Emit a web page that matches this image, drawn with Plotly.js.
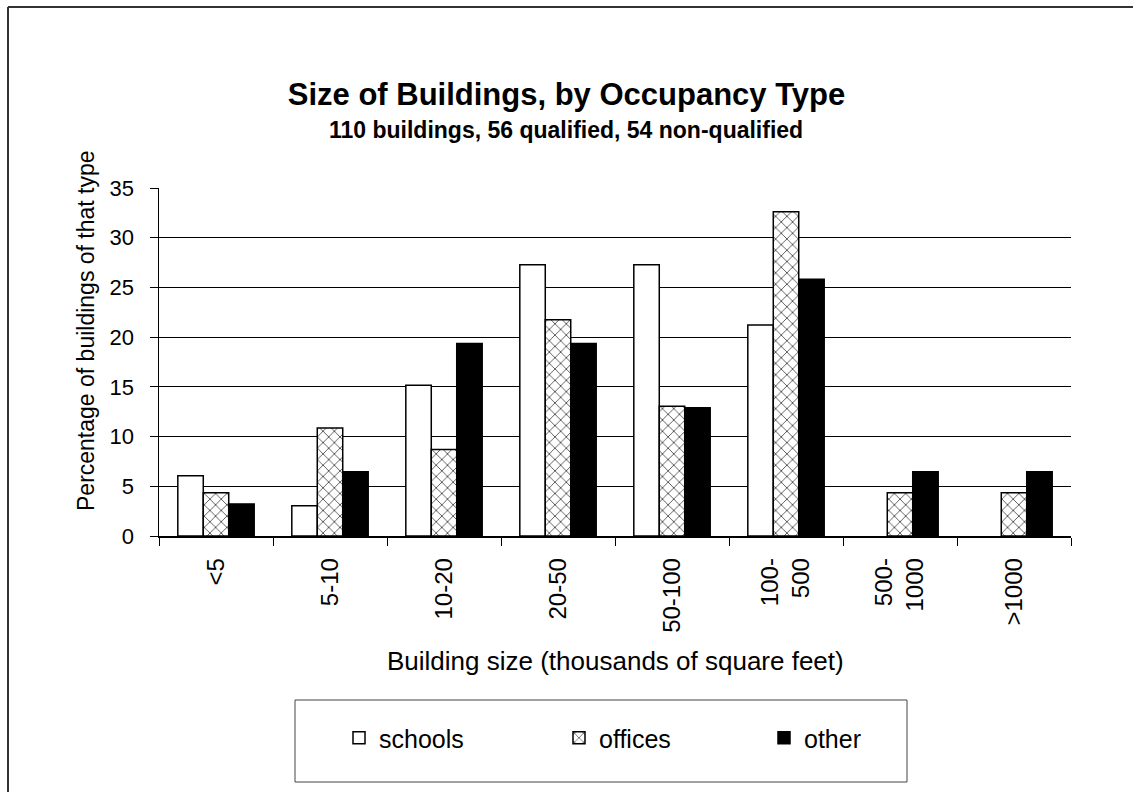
<!DOCTYPE html>
<html>
<head>
<meta charset="utf-8">
<script src="https://cdn.plot.ly/plotly-3.0.1.min.js"></script>
<style>
  html, body { margin: 0; padding: 0; background: #fff; }
  #chart { width: 1133px; height: 792px; }
</style>
</head>
<body>
<div id="chart"></div>
<script>
// ---- data ----
const categories = ["<5", "5-10", "10-20", "20-50", "50-100", "100-<br>500", "500-<br>1000", ">1000"];
const schools = [6.06, 3.03, 15.15, 27.27, 27.27, 21.21, 0, 0];
const offices = [4.35, 10.87, 8.70, 21.74, 13.04, 32.61, 4.35, 4.35];
const other   = [3.23, 6.45, 19.35, 19.35, 12.90, 25.81, 6.45, 6.45];
const seriesNames = ["schools", "offices", "other"];
const yTicks = [0, 5, 10, 15, 20, 25, 30, 35];

// ---- layout geometry (pixels) ----
const W = 1133, H = 792;
const L = 159, R = 1071, T = 188, B = 536;
const pw = R - L, ph = B - T;
const px = X => (X - L) / pw;
const py = Y => (B - Y) / ph;

const FONT = "Liberation Sans, Arial, sans-serif";
// outline hidden on zero-height bars (no visible bar in the original)
const outline = vals => ({ color: "#000", width: vals.map(v => (v > 0 ? 1.5 : 0)) });

const traces = [
  {
    type: "bar", name: seriesNames[0], x: categories, y: schools,
    marker: { color: "#ffffff", line: outline(schools) },
    legend: "legend"
  },
  {
    type: "bar", name: seriesNames[1], x: categories, y: offices,
    marker: {
      color: "#ffffff", line: outline(offices),
      pattern: { shape: "x", fgcolor: "#444", bgcolor: "#ffffff", size: 8, solidity: 0.2 }
    },
    legend: "legend2"
  },
  {
    type: "bar", name: seriesNames[2], x: categories, y: other,
    marker: { color: "#000000", line: outline(other) },
    legend: "legend3"
  }
];

const legendBase = {
  orientation: "h", yanchor: "middle", xanchor: "left",
  font: { family: FONT, size: 25, color: "#000" },
  bgcolor: "rgba(0,0,0,0)", borderwidth: 0
};

const layout = {
  width: W, height: H,
  paper_bgcolor: "#fff", plot_bgcolor: "#fff",
  margin: { l: L, r: W - R, t: T, b: H - B, pad: 0 },
  font: { family: FONT, color: "#000" },
  barmode: "group", bargap: 0.33, bargroupgap: 0,
  title: {
    text: "<b>Size of Buildings, by Occupancy Type</b>",
    font: { family: FONT, size: 31, color: "#000" },
    x: 0.5, xref: "container", xanchor: "center",
    y: 1 - 94 / H, yref: "container", yanchor: "middle"
  },
  xaxis: {
    type: "category",
    showline: true, linecolor: "#000", linewidth: 1.5,
    ticks: "outside", ticklen: 8, tickcolor: "#000", tickwidth: 1,
    tickson: "boundaries",
    tickangle: -90, ticklabelstandoff: 11,
    tickfont: { family: FONT, size: 24, color: "#000" },
    showgrid: false, zeroline: false, fixedrange: true
  },
  yaxis: {
    range: [0, 35], tickvals: yTicks, ticktext: yTicks.map(String),
    showline: true, linecolor: "#000", linewidth: 1.5,
    ticks: "outside", ticklen: 8, tickcolor: "#000", tickwidth: 1,
    ticklabelstandoff: 11,
    tickfont: { family: FONT, size: 22, color: "#000" },
    showgrid: true, gridcolor: "#000", gridwidth: 1,
    zeroline: false, fixedrange: true
  },
  annotations: [
    {
      text: "<b>110 buildings, 56 qualified, 54 non-qualified</b>",
      xref: "paper", yref: "paper", x: px(566), y: py(130),
      xanchor: "center", yanchor: "middle", showarrow: false,
      font: { family: FONT, size: 23, color: "#000" }
    },
    {
      text: "Building size (thousands of square feet)",
      xref: "paper", yref: "paper", x: px(615), y: py(661),
      xanchor: "center", yanchor: "middle", showarrow: false,
      font: { family: FONT, size: 26, color: "#000" }
    },
    {
      text: "Percentage of buildings of that type",
      xref: "paper", yref: "paper", x: px(86), y: py(331),
      xanchor: "center", yanchor: "middle", showarrow: false, textangle: -90,
      font: { family: FONT, size: 23, color: "#000" }
    }
  ],
  shapes: [
    // legend frame
    { type: "rect", xref: "paper", yref: "paper",
      x0: px(295), x1: px(907), y0: py(700), y1: py(782),
      line: { color: "#444", width: 1 }, fillcolor: "rgba(0,0,0,0)", layer: "below" },
    // outer chart border (left & top)
    { type: "line", xref: "paper", yref: "paper",
      x0: px(8), x1: px(8), y0: py(7), y1: py(800), line: { color: "#333", width: 2 } },
    { type: "line", xref: "paper", yref: "paper",
      x0: px(8), x1: px(1140), y0: py(7), y1: py(7), line: { color: "#333", width: 2 } }
  ],
  legend:  Object.assign({}, legendBase, { x: px(339), y: py(738) }),
  legend2: Object.assign({}, legendBase, { x: px(559), y: py(738) }),
  legend3: Object.assign({}, legendBase, { x: px(764), y: py(738) }),
  showlegend: true
};

Plotly.newPlot("chart", traces, layout, { displayModeBar: false, staticPlot: true });
</script>
</body>
</html>
